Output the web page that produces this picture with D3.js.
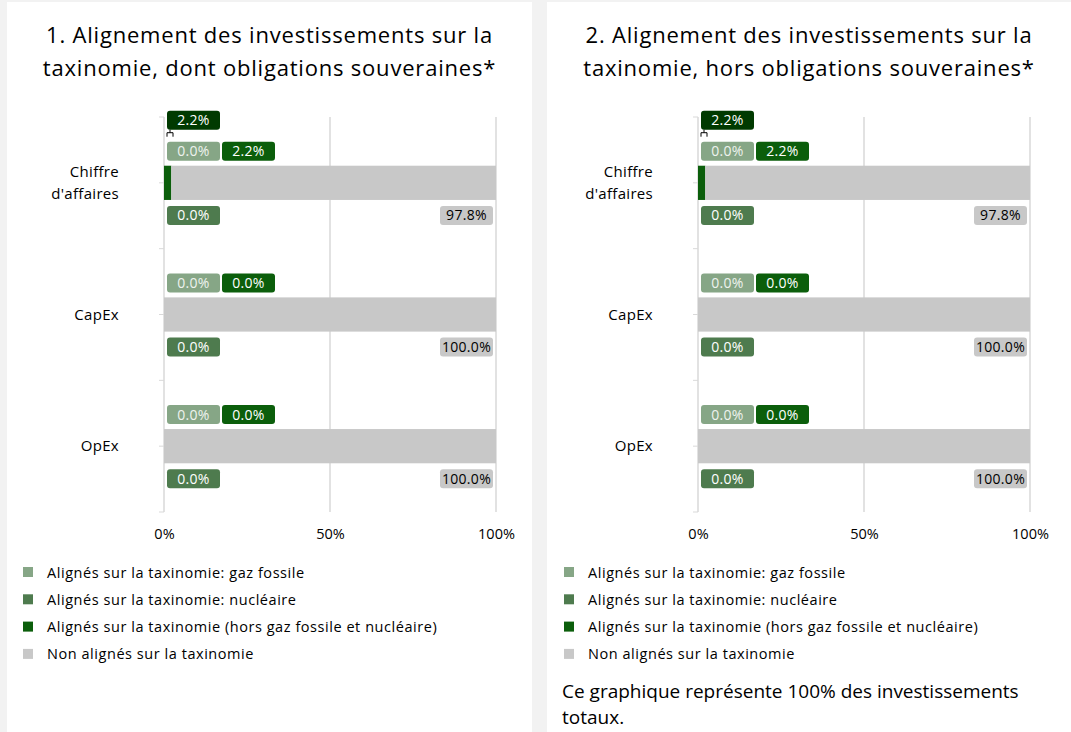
<!DOCTYPE html>
<html>
<head>
<meta charset="utf-8">
<script src="https://cdn.jsdelivr.net/npm/d3@7"></script>
<style>
  body { margin: 0; background: #f2f2f2; }
  svg { display: block; font-family: "Open Sans", "Noto Sans", sans-serif; }
</style>
</head>
<body>
<svg id="chart" width="1071" height="732"></svg>
<script>
// ---- data ----
const categories = ["Chiffre d'affaires", "CapEx", "OpEx"];
const seriesNames = [
  "Alignés sur la taxinomie: gaz fossile",
  "Alignés sur la taxinomie: nucléaire",
  "Alignés sur la taxinomie (hors gaz fossile et nucléaire)",
  "Non alignés sur la taxinomie"
];
const seriesColors = ["#86a686", "#4e7b4e", "#0b5e0b", "#c8c8c8"];
const xTicks = [0, 50, 100];

// panel 1 : dont obligations souveraines
const p1GazFossile = [0.0, 0.0, 0.0];
const p1Nucleaire = [0.0, 0.0, 0.0];
const p1HorsGazNucl = [2.2, 0.0, 0.0];
const p1NonAlignes = [97.8, 100.0, 100.0];
// panel 2 : hors obligations souveraines
const p2GazFossile = [0.0, 0.0, 0.0];
const p2Nucleaire = [0.0, 0.0, 0.0];
const p2HorsGazNucl = [2.2, 0.0, 0.0];
const p2NonAlignes = [97.8, 100.0, 100.0];

const panelTitles = [
  ["1. Alignement des investissements sur la", "taxinomie, dont obligations souveraines*"],
  ["2. Alignement des investissements sur la", "taxinomie, hors obligations souveraines*"]
];
const noteLines = ["Ce graphique représente 100% des investissements", "totaux."];

const svg = d3.select("#chart");
const fmt = d => d3.format(".1f")(d) + "%";

function drawPanel(cfg) {
  const g = svg.append("g");

  // white card
  g.append("rect")
    .attr("x", cfg.left).attr("y", 2)
    .attr("width", cfg.width).attr("height", 730)
    .attr("fill", "#ffffff");

  // title
  g.append("text")
    .attr("x", cfg.left + cfg.width / 2)
    .attr("text-anchor", "middle")
    .attr("font-size", 22)
    .attr("letter-spacing", 0.8)
    .attr("fill", "#000")
    .selectAll("tspan")
    .data(cfg.title)
    .join("tspan")
      .attr("x", cfg.left + cfg.width / 2)
      .attr("y", (d, i) => 43 + i * 33)
      .text(d => d);

  const x = d3.scaleLinear().domain([0, 100]).range(cfg.xRange);
  const y = d3.scaleBand().domain(categories).range([117, 512])
    .paddingInner(0.74).paddingOuter(0.37);

  // gridlines
  g.append("g").selectAll("line")
    .data(xTicks.filter(t => t > 0))
    .join("line")
      .attr("x1", d => x(d)).attr("x2", d => x(d))
      .attr("y1", 117).attr("y2", 512)
      .attr("stroke", "#d9d9d9").attr("stroke-width", 1.5);

  // x axis labels
  const xAxis = d3.axisBottom(x).tickValues(xTicks).tickFormat(d => d + "%").tickSize(0).tickPadding(0);
  const xg = g.append("g").attr("transform", "translate(0,529)").call(xAxis);
  xg.select(".domain").remove();
  xg.selectAll("text").attr("font-size", 14.5).attr("fill", "#000")
    .attr("font-family", "Open Sans, sans-serif");

  // y axis line + ticks at every half band
  g.append("line")
    .attr("x1", x(0)).attr("x2", x(0)).attr("y1", 117).attr("y2", 512)
    .attr("stroke", "#d9d9d9").attr("stroke-width", 1.5);
  const half = y.step() / 2;
  const tickYs = d3.range(7).map(i => 117 + i * half);
  g.append("g").selectAll("line")
    .data(tickYs)
    .join("line")
      .attr("x1", x(0) - 5).attr("x2", x(0))
      .attr("y1", d => d).attr("y2", d => d)
      .attr("stroke", "#d9d9d9").attr("stroke-width", 1);

  // category labels
  const catG = g.append("g").selectAll("text")
    .data(categories)
    .join("text")
      .attr("text-anchor", "end")
      .attr("font-size", 15)
      .attr("letter-spacing", 0.3)
      .attr("fill", "#000");
  catG.each(function (d) {
    const lines = d === "Chiffre d'affaires" ? ["Chiffre", "d'affaires"] : [d];
    const cy = y(d) + y.bandwidth() / 2;
    d3.select(this).selectAll("tspan")
      .data(lines)
      .join("tspan")
        .attr("x", x(0) - 45)
        .attr("y", (l, i) => cy + 5 + (i - (lines.length - 1) / 2) * 22)
        .text(l => l);
  });

  // stacked bars
  const rows = categories.map((c, i) => ({
    cat: c, gaz: cfg.gaz[i], nuc: cfg.nuc[i], hors: cfg.hors[i], non: cfg.non[i]
  }));
  const stack = d3.stack().keys(["gaz", "nuc", "hors", "non"])(rows);
  g.append("g").selectAll("g")
    .data(stack)
    .join("g")
      .attr("fill", (d, i) => seriesColors[i])
    .selectAll("rect")
    .data(d => d)
    .join("rect")
      .attr("x", d => x(d[0]))
      .attr("y", d => y(d.data.cat))
      .attr("width", d => x(d[1]) - x(d[0]))
      .attr("height", y.bandwidth());

  // data labels
  const lw = 53, lh = 19;
  function label(px, py, val, fill, txtColor) {
    const lg = g.append("g");
    lg.append("rect").attr("x", px).attr("y", py).attr("width", lw).attr("height", lh)
      .attr("rx", 3).attr("fill", fill);
    lg.append("text").attr("x", px + lw / 2).attr("y", py + 14.5)
      .attr("text-anchor", "middle").attr("font-size", 14)
      .attr("letter-spacing", 0.3)
      .attr("fill", txtColor).text(fmt(val));
  }
  rows.forEach(r => {
    const top = y(r.cat), bot = y(r.cat) + y.bandwidth();
    label(x(0) + 3, top - 24, r.gaz, seriesColors[0], "#eef3ee");
    label(x(0) + 58, top - 24, r.hors, seriesColors[2], "#ffffff");
    label(x(0) + 3, bot + 6, r.nuc, seriesColors[1], "#ffffff");
    label(x(100) - 3 - lw, bot + 6, r.non, seriesColors[3], "#000000");
  });

  // detached label with leader for the first category
  const r0 = rows[0];
  const t0 = y(r0.cat);
  label(x(0) + 3, t0 - 55, r0.hors, "#003a00", "#ffffff");
  g.append("path")
    .attr("d", `M${x(0) + 3},${t0 - 29} V${t0 - 33} H${x(0) + 9} V${t0 - 29} M${x(0) + 6},${t0 - 33} V${t0 - 36}`)
    .attr("fill", "none").attr("stroke", "#000").attr("stroke-width", 1);

  // legend
  const leg = g.append("g").selectAll("g")
    .data(seriesNames)
    .join("g")
      .attr("transform", (d, i) => `translate(${cfg.legX},${572 + i * 27.3})`);
  leg.append("rect").attr("x", 0).attr("y", -5).attr("width", 10).attr("height", 10)
    .attr("fill", (d, i) => seriesColors[i]);
  leg.append("text").attr("x", 24).attr("y", 5.5).attr("font-size", 14.5)
    .attr("letter-spacing", 0.55)
    .attr("fill", "#000").text(d => d);

  if (cfg.note) {
    g.append("text").attr("font-size", 19).attr("fill", "#000")
      .selectAll("tspan")
      .data(cfg.note)
      .join("tspan")
        .attr("x", cfg.legX - 2)
        .attr("y", (d, i) => 698 + i * 26)
        .text(d => d);
  }
}

drawPanel({
  left: 7, width: 525, title: panelTitles[0], xRange: [164, 496], legX: 23,
  gaz: p1GazFossile, nuc: p1Nucleaire, hors: p1HorsGazNucl, non: p1NonAlignes, note: null
});
drawPanel({
  left: 547, width: 524, title: panelTitles[1], xRange: [698, 1030], legX: 564,
  gaz: p2GazFossile, nuc: p2Nucleaire, hors: p2HorsGazNucl, non: p2NonAlignes, note: noteLines
});
</script>
</body>
</html>
